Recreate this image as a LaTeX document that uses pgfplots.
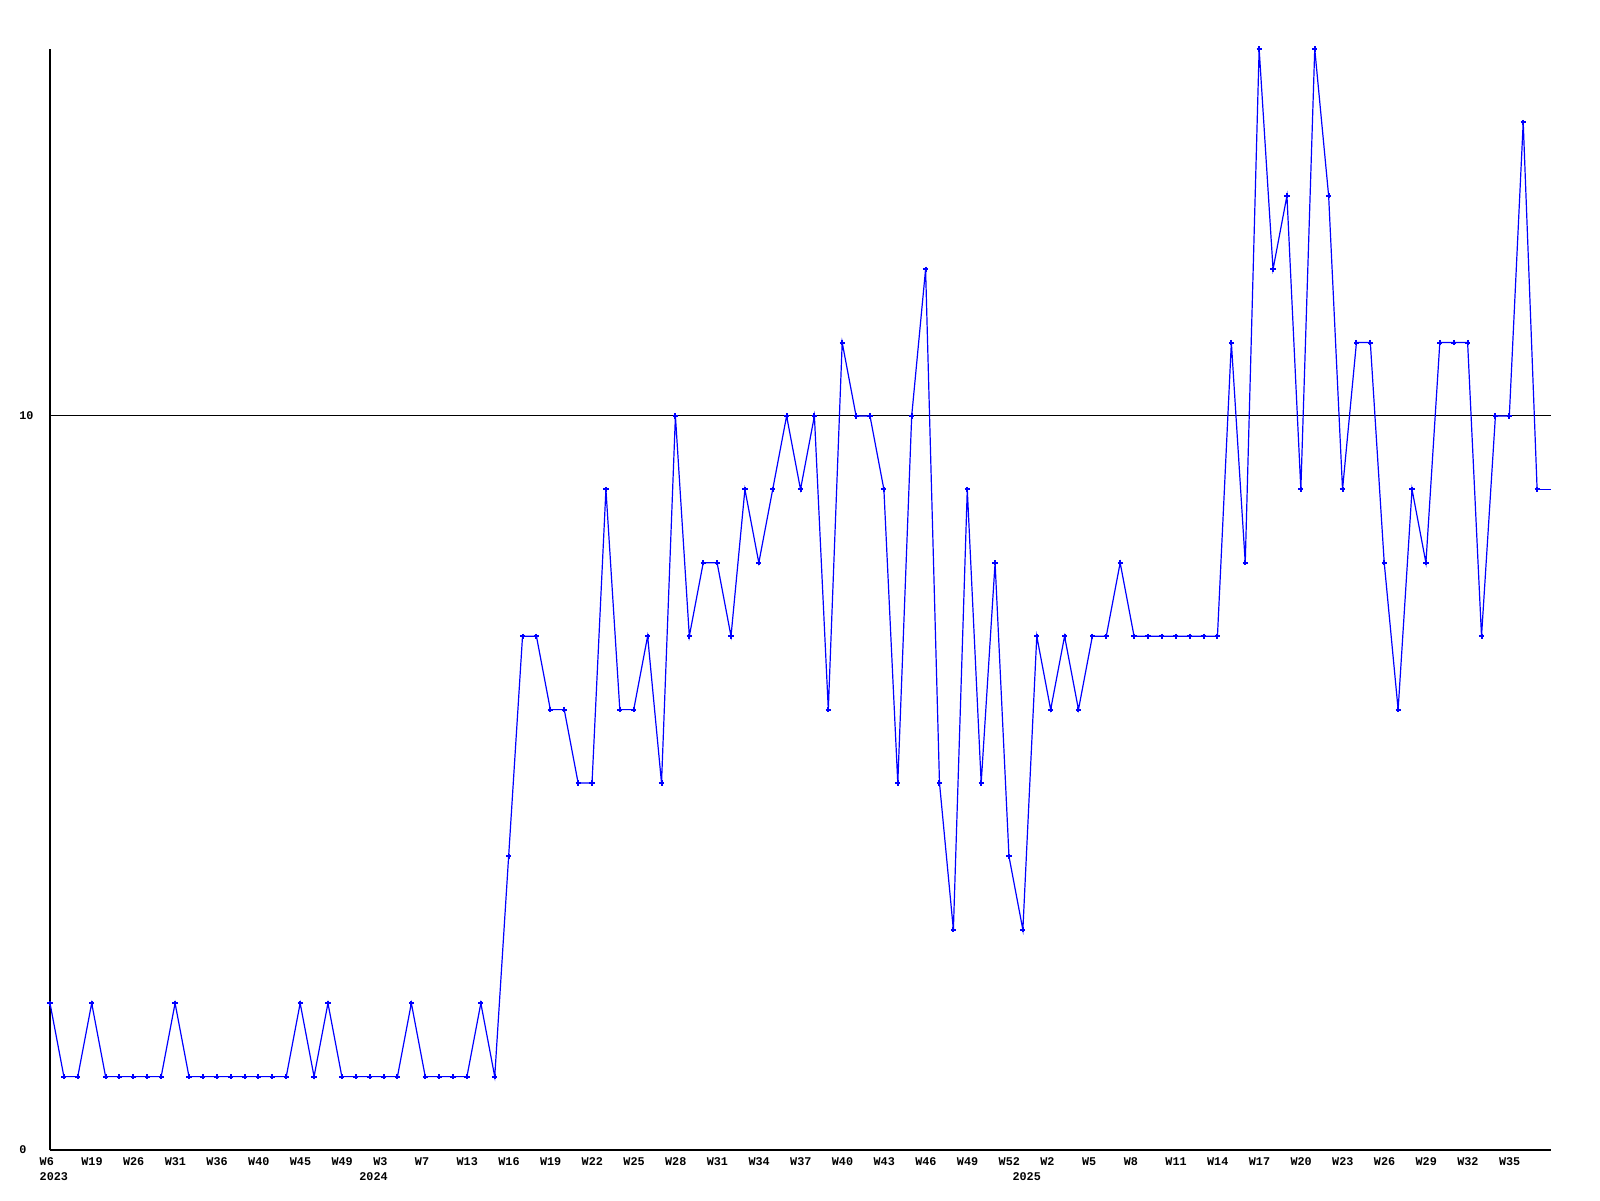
\documentclass[border=0pt]{standalone}
\usepackage{fontspec}
\setmainfont{Liberation Mono}
\usepackage{pgfplots}
\pgfplotsset{compat=1.18}
\definecolor{lineblue}{RGB}{0,0,255}
\begin{document}
\begin{tikzpicture}
\useasboundingbox (-25pt,-25pt) rectangle (775pt,575pt);
\begin{axis}[
  at={(0pt,0pt)}, anchor=south west,
  scale only axis, width=750.5pt, height=550.5pt,
  xmin=0, xmax=108, ymin=0, ymax=15,
  axis x line*=bottom, axis y line*=left,
  axis line style={black, line width=0.55pt, -},
  major tick length=0pt,
  xtick={0,3,...,105},
  xticklabels={W6,W19,W26,W31,W36,W40,W45,W49,W3,W7,W13,W16,W19,W22,W25,W28,W31,W34,W37,W40,W43,W46,W49,W52,W2,W5,W8,W11,W14,W17,W20,W23,W26,W29,W32,W35},
  ytick={0,10}, yticklabels={0,10},
  ymajorgrids, grid style={black, line width=0.5pt},
  tick label style={font=\fontsize{5.9}{6}\selectfont\bfseries, inner sep=0pt},
  x tick label style={anchor=north west, xshift=-5.35pt, yshift=-3.6pt},
  y tick label style={anchor=west, xshift=-15.5pt},
  extra x ticks={0,23,70}, extra x tick labels={2023,2024,2025},
  extra x tick style={x tick label style={yshift=-7.5pt}},
  clip=false,
]
\addplot[lineblue, line width=0.6pt, no marks] coordinates {(107,9) (108,9)};
\addplot[lineblue, line width=0.6pt, mark=+, mark size=1.3pt, mark options={line width=1pt}] coordinates {
(0,2) (1,1) (2,1) (3,2) (4,1) (5,1) (6,1) (7,1) (8,1) (9,2)
(10,1) (11,1) (12,1) (13,1) (14,1) (15,1) (16,1) (17,1) (18,2) (19,1)
(20,2) (21,1) (22,1) (23,1) (24,1) (25,1) (26,2) (27,1) (28,1) (29,1)
(30,1) (31,2) (32,1) (33,4) (34,7) (35,7) (36,6) (37,6) (38,5) (39,5)
(40,9) (41,6) (42,6) (43,7) (44,5) (45,10) (46,7) (47,8) (48,8) (49,7)
(50,9) (51,8) (52,9) (53,10) (54,9) (55,10) (56,6) (57,11) (58,10) (59,10)
(60,9) (61,5) (62,10) (63,12) (64,5) (65,3) (66,9) (67,5) (68,8) (69,4)
(70,3) (71,7) (72,6) (73,7) (74,6) (75,7) (76,7) (77,8) (78,7) (79,7)
(80,7) (81,7) (82,7) (83,7) (84,7) (85,11) (86,8) (87,15) (88,12) (89,13)
(90,9) (91,15) (92,13) (93,9) (94,11) (95,11) (96,8) (97,6) (98,9) (99,8)
(100,11) (101,11) (102,11) (103,7) (104,10) (105,10) (106,14) (107,9)
};
\end{axis}
\end{tikzpicture}
\end{document}
